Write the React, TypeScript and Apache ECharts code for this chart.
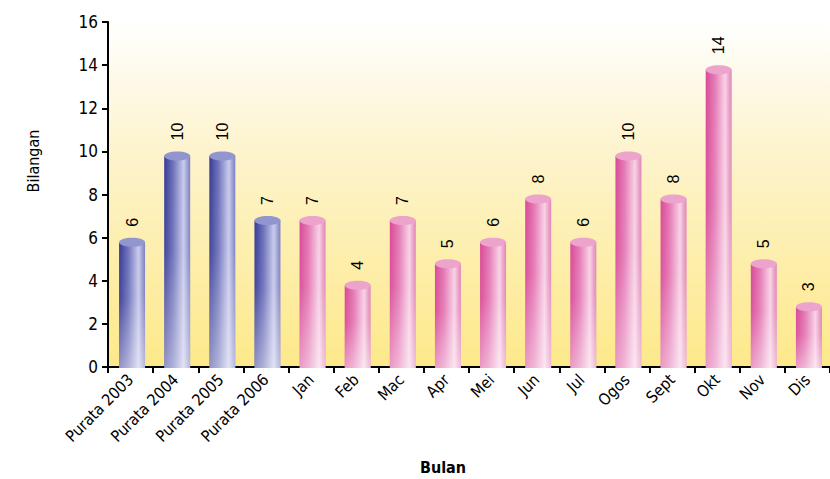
import React, { useEffect, useRef } from "react";
import * as echarts from "echarts";

const categories = [
  "Purata 2003", "Purata 2004", "Purata 2005", "Purata 2006",
  "Jan", "Feb", "Mac", "Apr", "Mei", "Jun", "Jul", "Ogos", "Sept", "Okt", "Nov", "Dis",
];
const values = [6, 10, 10, 7, 7, 4, 7, 5, 6, 8, 6, 10, 8, 14, 5, 3];
const averageCount = 4;
const yTicks = [0, 2, 4, 6, 8, 10, 12, 14, 16];

const condensed = "'Liberation Sans Narrow', 'DejaVu Sans Condensed', Roboto, sans-serif";

function bodyGradient(isAvg: boolean) {
  const stops = isAvg
    ? [
        { offset: 0, color: "#383c96" },
        { offset: 0.35, color: "#6f73bb" },
        { offset: 0.75, color: "#c9cbec" },
        { offset: 0.9, color: "#9a9dd2" },
        { offset: 1, color: "#7c80c2" },
      ]
    : [
        { offset: 0, color: "#d94a97" },
        { offset: 0.35, color: "#e57bb6" },
        { offset: 0.75, color: "#f8d2e6" },
        { offset: 0.9, color: "#eaa1c8" },
        { offset: 1, color: "#e286b7" },
      ];
  return new echarts.graphic.LinearGradient(0, 0, 1, 0, stops);
}

export default function App() {
  const ref = useRef<HTMLDivElement>(null);
  useEffect(() => {
    if (!ref.current) return;
    const chart = echarts.init(ref.current, null, { renderer: "svg" });
    const seriesData = values.map((v, i) => [i, v]);
    chart.setOption({
      animation: false,
      grid: {
        left: 108,
        top: 22,
        right: 0,
        bottom: 112,
        show: true,
        borderWidth: 0,
        backgroundColor: new echarts.graphic.LinearGradient(0, 0, 0, 1, [
          { offset: 0, color: "#ffffff" },
          { offset: 0.35, color: "#fdf4d0" },
          { offset: 1, color: "#fde98a" },
        ]),
      },
      xAxis: {
        type: "category",
        data: categories,
        axisLine: { lineStyle: { color: "#000", width: 2 } },
        axisTick: { show: true, length: 6, lineStyle: { color: "#000", width: 2 } },
        axisLabel: {
          rotate: 45,
          interval: 0,
          margin: 10,
          color: "#000",
          fontSize: 16,
          fontFamily: condensed,
        },
      },
      yAxis: {
        type: "value",
        min: 0,
        max: 16,
        interval: 2,
        splitLine: { show: false },
        axisLine: { show: true, lineStyle: { color: "#000", width: 2 } },
        axisTick: { show: true, length: 6, lineStyle: { color: "#000", width: 2 } },
        axisLabel: {
          color: "#000",
          fontSize: 17,
          margin: 10,
          fontFamily: condensed,
          formatter: (v: number) => (yTicks.includes(v) ? String(v) : ""),
        },
      },
      graphic: [
        {
          type: "text",
          x: 33,
          y: 161,
          rotation: Math.PI / 2,
          style: {
            text: "Bilangan",
            fill: "#000",
            font: `16px ${condensed}`,
            align: "center",
            verticalAlign: "middle",
          },
        },
        {
          type: "text",
          x: 443,
          y: 467,
          style: {
            text: "Bulan",
            fill: "#000",
            font: `bold 16px ${condensed}`,
            align: "center",
            verticalAlign: "middle",
          },
        },
      ],
      series: [
        {
          type: "custom",
          data: seriesData,
          encode: { x: 0, y: 1 },
          z: 3,
          renderItem: (params: any, api: any) => {
            const idx = api.value(0);
            const v = api.value(1);
            const top = api.coord([idx, v]);
            const base = api.coord([idx, 0]);
            const isAvg = params.dataIndex < averageCount;
            const w = 26;
            const ry = 4.5;
            const cx = top[0] + 1.5;
            const x = cx - w / 2;
            const capCy = top[1] + ry;
            const bodyH = base[1] + 1 - capCy;
            return {
              type: "group",
              children: [
                {
                  type: "rect",
                  shape: { x, y: capCy, width: w, height: bodyH },
                  style: { fill: bodyGradient(isAvg) },
                },
                {
                  type: "rect",
                  shape: { x, y: capCy, width: w, height: bodyH },
                  style: {
                    fill: new echarts.graphic.LinearGradient(0, 0, 0, 1, [
                      { offset: 0, color: "rgba(255,255,255,0)" },
                      { offset: 0.45, color: "rgba(255,255,255,0.05)" },
                      { offset: 1, color: "rgba(255,255,255,0.45)" },
                    ]),
                  },
                },
                {
                  type: "ellipse",
                  shape: { cx, cy: capCy, rx: w / 2, ry },
                  style: { fill: isAvg ? "#9296ce" : "#eca4cc" },
                },
                {
                  type: "text",
                  x: cx,
                  y: top[1] - 11,
                  rotation: Math.PI / 2,
                  style: {
                    text: String(v),
                    fill: "#000",
                    font: "16px 'Liberation Sans', Arial, sans-serif",
                    align: "left",
                    verticalAlign: "middle",
                  },
                },
              ],
            };
          },
        },
      ],
    });
    return () => chart.dispose();
  }, []);
  return <div ref={ref} style={{ width: 830, height: 479, position: "absolute", left: 0, top: 0 }} />;
}
